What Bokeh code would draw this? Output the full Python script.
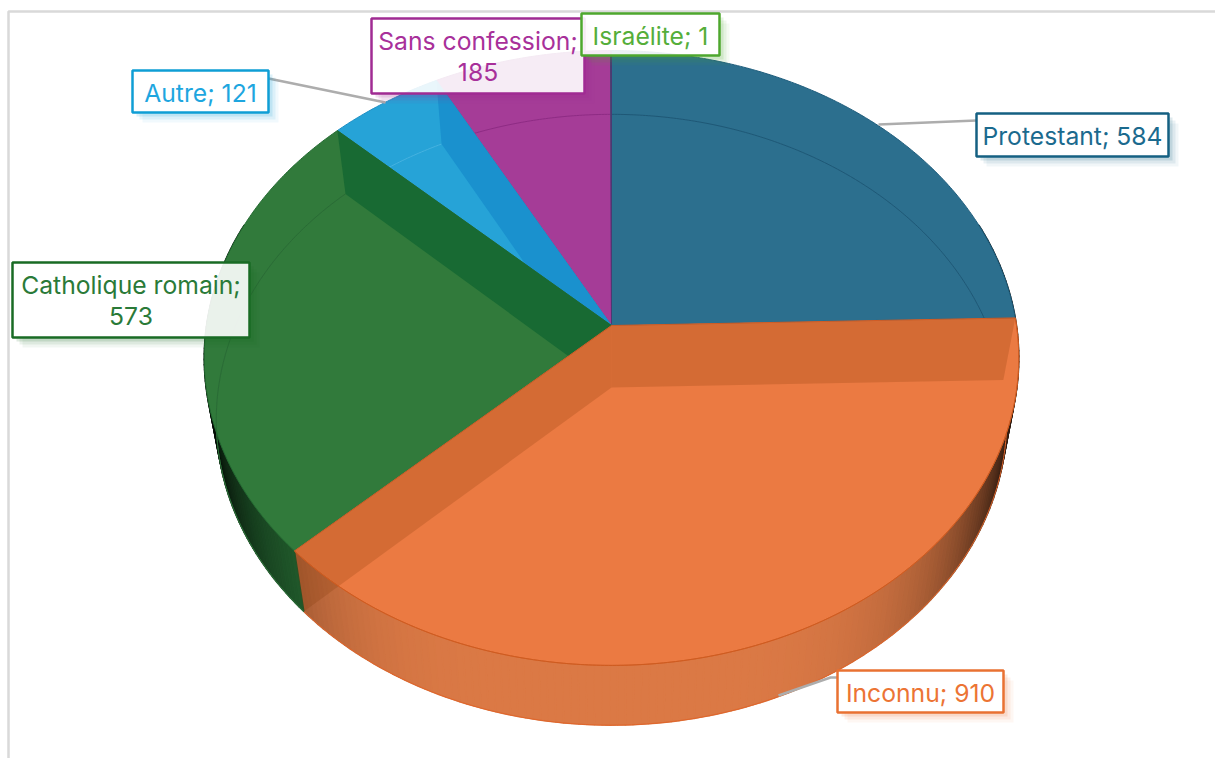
import math
from bokeh.plotting import figure
from bokeh.embed import file_html
from bokeh.resources import INLINE
from bokeh.core.properties import value

# Data, clockwise from twelve o'clock
categories = ["Protestant", "Inconnu", "Catholique romain", "Autre", "Sans confession", "Israélite"]
values = [584, 910, 573, 121, 185, 1]

# Colours
face_colors = ["#2C6F8E", "#EB7A42", "#317A3B", "#26A3D7", "#A53C97", "#4EA72E"]
edge_colors = ["#1F5D7C", "#D9622A", "#246A32", "#1E8FC4", "#8E2C84", "#4B3A72"]
wall_colors = ["#2C6F8E", "#783400", "#186A33", "#1A91CE", "#A53C97", "#4EA72E"]
wall_alphas = [1, 0.20, 1, 1, 1, 1]
rim_colors = ["#1F5876", "#E0652A", "#2A6B36", "#45B2E0", "#8E2C84", "#4EA72E"]
side_colors = ["#2C6F8E", "#DC7A46", "#2A7238", "#26A3D7", "#A53C97", "#4EA72E"]
label_colors = ["#1B6A8E", "#EC7434", "#2A7A38", "#1EA6DF", "#A8309A", "#55AE3A"]
border_colors = ["#156082", "#E97132", "#196B24", "#0F9ED5", "#A02B93", "#4EA72E"]

# Layout (reference pixels)
CX = 611
TOP_APEX, BOT_APEX = 325, 387
TOP_A, BOT_A = 405, 393
TOP_B, BOT_B = 304, 302
PERSP = 0.1056
# left, right, top, bottom; wrapped onto two lines or not
boxes = [
    (976, 1168, 113, 156, False),
    (837, 1003, 670, 712, False),
    (12, 249, 262, 337, True),
    (132, 268, 70, 112, False),
    (371, 584, 18, 93, True),
    (581, 719, 13, 55, False),
]
leader_xs = [[878, 976], [778, 830, 838], [268, 385]]
leader_ys = [[124, 120], [695, 677, 677], [78, 102]]
FONT = "Inter"
FONT_SIZE = "24.7px"
W, H = 1215, 758


def proj(theta_deg, apex, a, b):
    t = math.radians(theta_deg)
    u, back = math.sin(t), math.cos(t)
    w = 1 + PERSP * back
    return CX + a * u / w, apex - b * back / w


def top(t):
    return proj(t, TOP_APEX, TOP_A, TOP_B)


def bot(t):
    return proj(t, BOT_APEX, BOT_A, BOT_B)


def arc(fn, t0, t1):
    n = max(2, int(abs(t1 - t0) * 2))
    return [fn(t0 + (t1 - t0) * i / n) for i in range(n + 1)]


total = sum(values)
edges = [0.0]
for v in values:
    edges.append(edges[-1] + v / total * 360)
spans = list(zip(edges[:-1], edges[1:]))

p = figure(width=W, height=H, x_range=(0, W), y_range=(H, 0),
           output_backend="svg", toolbar_location=None, min_border=0)
p.axis.visible = False
p.grid.visible = False
p.outline_line_color = None
p.background_fill_color = "white"

# Frame of the chart area
p.line([8, 8, W], [H, 11, 11], line_color="#D9D9D9", line_width=2.5)


def shade(hex_color, f):
    r, g, b = int(hex_color[1:3], 16), int(hex_color[3:5], 16), int(hex_color[5:7], 16)
    return "#%02x%02x%02x" % (int(r * f), int(g * f), int(b * f))


# Front side, shaded towards both extremes
for i, (t0, t1) in enumerate(spans):
    lo, hi = max(t0, 70), min(t1, 290)
    if hi <= lo:
        continue
    n = int(hi - lo)
    xs, ys, cols = [], [], []
    for k in range(n):
        a0 = lo + (hi - lo) * k / n
        a1 = lo + (hi - lo) * (k + 1) / n
        pts = [top(a0), top(a1), bot(a1), bot(a0)]
        s = abs(math.sin(math.radians((a0 + a1) / 2)))
        f = max(0.12, 1.0 - 0.95 * s ** 4.5)
        xs.append([q[0] for q in pts])
        ys.append([q[1] for q in pts])
        cols.append(shade(side_colors[i], f))
    p.patches(xs, ys, fill_color=cols, line_color=cols, line_width=1.5)
    rim = arc(bot, lo, hi)
    p.line([q[0] for q in rim], [q[1] for q in rim], line_color=rim_colors[i], line_width=1)


def face(i):
    t0, t1 = spans[i]
    pts = [(CX, TOP_APEX)] + arc(top, t0, t1)
    p.patch([q[0] for q in pts], [q[1] for q in pts], fill_color=face_colors[i],
            line_color=edge_colors[i], line_width=1)


def wall(i, t):
    a, b = top(t), bot(t)
    xs = [CX, a[0], b[0], CX]
    ys = [TOP_APEX, a[1], b[1], BOT_APEX]
    p.patch(xs, ys, fill_color=wall_colors[i], fill_alpha=wall_alphas[i], line_color=None)


def rim_line(i):
    pts = arc(bot, *spans[i])
    p.line([q[0] for q in pts], [q[1] for q in pts], line_color=rim_colors[i], line_width=1)


I_PROT, I_INC, I_CATH, I_AUT, I_SANS, I_ISR = range(6)

face(I_PROT)
rim_line(I_PROT)
face(I_SANS)
rim_line(I_SANS)
face(I_ISR)
face(I_AUT)
rim_line(I_AUT)
wall(I_AUT, spans[I_AUT][1])
face(I_CATH)
rim_line(I_CATH)
wall(I_CATH, spans[I_CATH][1])
face(I_INC)
wall(I_INC, spans[I_INC][0])
wall(I_INC, spans[I_INC][1])
top_rim = arc(top, *spans[I_INC])
p.line([q[0] for q in top_rim], [q[1] for q in top_rim], line_color="#CE5C20", line_width=1)

# Leader lines
p.multi_line(leader_xs, leader_ys, line_color="#ADADAD", line_width=2.5)

# Labels
draw_order = [I_PROT, I_INC, I_CATH, I_AUT, I_SANS, I_ISR]
for i in draw_order:
    l, r, t, b, wrapped = boxes[i]
    for off, al in ((10, 0.06), (7, 0.09), (4, 0.14)):
        p.patch([r, r + off, r + off, l + off, l + off, r],
                [t + off, t + off, b + off, b + off, b, b],
                fill_color=border_colors[i], fill_alpha=al, line_color=None)
    p.patch([l, r, r, l], [t, t, b, b], fill_color="white", fill_alpha=0.90,
            line_color=border_colors[i], line_width=2.5)
    c = (t + b) / 2
    if wrapped:
        lines = [f"{categories[i]};", f"{values[i]}"]
        ys = [c - 15, c + 16]
    else:
        lines = [f"{categories[i]}; {values[i]}"]
        ys = [c + 1]
    p.text([(l + r) / 2] * len(lines), ys, text=lines, text_color=label_colors[i],
           text_font=value(FONT), text_font_size=FONT_SIZE,
           text_align="center", text_baseline="middle")

open("out.html", "w").write(file_html(p, INLINE))
